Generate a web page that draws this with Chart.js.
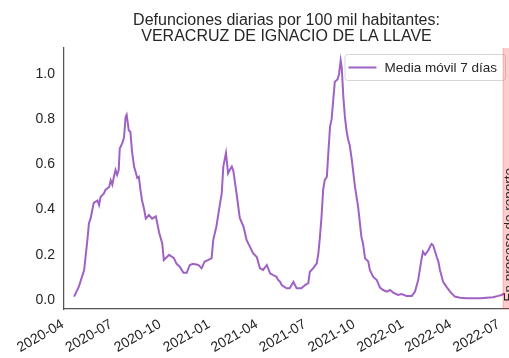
<!DOCTYPE html>
<html>
<head>
<meta charset="utf-8">
<script src="https://cdn.jsdelivr.net/npm/chart.js@4/dist/chart.umd.min.js"></script>
<style>
  html, body { margin: 0; padding: 0; background: #fff; }
  #wrap { width: 509px; height: 358px; }
</style>
</head>
<body>
<div id="wrap"><canvas id="grafica"></canvas></div>
<script>
// dias contados desde 2020-04-01
const dias = [21, 30, 40, 46, 49, 52, 58, 65, 68, 71, 77, 80, 87, 90, 93, 96, 99, 102, 105, 107,
  112, 115, 118, 120, 124, 127, 130, 134, 140, 143, 146, 149, 153, 156, 162, 168, 175, 181, 187, 190,
  200, 209, 214, 220, 227, 233, 239, 245, 255, 261, 267, 274, 280, 283, 289, 296, 299, 302, 307, 311,
  314, 318, 321, 327, 333, 340, 346, 352, 358, 365, 371, 377, 384, 390, 396, 402, 405, 409, 412, 421,
  427, 434, 440, 449, 456, 462, 465, 471, 478, 481, 484, 487, 490, 493, 497, 500, 503, 506, 509, 512,
  517, 520, 523, 525, 528, 531, 534, 537, 540, 544, 550, 556, 562, 565, 569, 575, 578, 584, 591, 597,
  603, 610, 616, 622, 631, 638, 647, 657, 663, 669, 675, 678, 682, 688, 694, 697, 704, 707, 710, 716,
  722, 729, 738, 748, 760, 773, 785, 798, 810, 820, 826, 831];

const mediaMovil = [0.015, 0.059, 0.133, 0.265, 0.34, 0.36, 0.43, 0.44, 0.42, 0.457, 0.47, 0.487, 0.50, 0.53, 0.51, 0.545, 0.575, 0.553, 0.575, 0.67,
  0.695, 0.72, 0.81, 0.82, 0.75, 0.745, 0.66, 0.59, 0.54, 0.545, 0.487, 0.44, 0.40, 0.36, 0.376, 0.36, 0.37, 0.30, 0.25, 0.177,
  0.20, 0.185, 0.16, 0.147, 0.12, 0.12, 0.155, 0.16, 0.155, 0.14, 0.17, 0.177, 0.185, 0.265, 0.325, 0.43, 0.47, 0.59, 0.65, 0.56,
  0.575, 0.59, 0.57, 0.47, 0.363, 0.325, 0.265, 0.236, 0.207, 0.19, 0.14, 0.133, 0.155, 0.118, 0.11, 0.103, 0.09, 0.08, 0.066, 0.052,
  0.052, 0.08, 0.052, 0.052, 0.066, 0.074, 0.125, 0.14, 0.162, 0.206, 0.28, 0.37, 0.487, 0.53, 0.545, 0.66, 0.767, 0.80, 0.885, 0.966,
  0.976, 1.0, 1.06, 1.03, 0.90, 0.81, 0.75, 0.71, 0.686, 0.62, 0.50, 0.41, 0.28, 0.25, 0.184, 0.17, 0.133, 0.103, 0.088, 0.055,
  0.044, 0.037, 0.044, 0.032, 0.022, 0.026, 0.018, 0.018, 0.037, 0.088, 0.177, 0.214, 0.20, 0.22, 0.248, 0.243, 0.19, 0.17, 0.133, 0.08,
  0.059, 0.037, 0.015, 0.01, 0.008, 0.008, 0.008, 0.01, 0.012, 0.018, 0.022, 0.028];

const tickDias = [0, 91, 183, 275, 365, 456, 548, 640, 730, 821];
const tickEtiquetas = ['2020-04', '2020-07', '2020-10', '2021-01', '2021-04', '2021-07', '2021-10', '2022-01', '2022-04', '2022-07'];
const yTicks = [0, 0.2, 0.4, 0.6, 0.8, 1.0];

// rango "En proceso de reporte"
const inicioReporte = 829;
const finReporte = 850;

const titulo = ['Defunciones diarias por 100 mil habitantes:', 'VERACRUZ DE IGNACIO DE LA LLAVE'];

const colorTexto = '#262626';
const colorLinea = '#9f62c4';
const fuente = '"Liberation Sans", Arial, sans-serif';

// franja rosa con su texto
const franjaReporte = {
  id: 'franjaReporte',
  afterDatasetsDraw(chart) {
    const { ctx, chartArea, scales } = chart;
    const x0 = scales.x.getPixelForValue(inicioReporte);
    const x1 = Math.min(scales.x.getPixelForValue(finReporte), chartArea.right);
    ctx.save();
    ctx.fillStyle = 'rgba(255, 0, 0, 0.2)';
    ctx.fillRect(x0, chartArea.top, x1 - x0, chartArea.bottom - chartArea.top);
    ctx.strokeStyle = 'rgba(255, 0, 0, 0.25)';
    ctx.lineWidth = 1;
    ctx.beginPath();
    ctx.moveTo(x0, chartArea.top);
    ctx.lineTo(x0, chartArea.bottom);
    ctx.stroke();
    ctx.translate(x0 + 9.5, scales.y.getPixelForValue(0) + 1.5);
    ctx.rotate(-Math.PI / 2);
    ctx.fillStyle = colorTexto;
    ctx.font = '13.5px ' + fuente;
    ctx.textAlign = 'left';
    ctx.textBaseline = 'alphabetic';
    ctx.fillText('En proceso de reporte', 0, 0);
    ctx.restore();
  }
};

// leyenda dentro del area, arriba a la derecha
const leyenda = {
  id: 'leyenda',
  afterDatasetsDraw(chart) {
    const { ctx, chartArea } = chart;
    const ds = chart.data.datasets[0];
    ctx.save();
    ctx.font = '13.5px ' + fuente;
    const tw = ctx.measureText(ds.label).width;
    const w = 41 + tw + 7, h = 26;
    const x = chartArea.right - 4 - w, y = chartArea.top + 6;
    ctx.fillStyle = 'rgba(255,255,255,0.8)';
    ctx.strokeStyle = '#d6d6d6';
    ctx.lineWidth = 1;
    ctx.beginPath();
    ctx.roundRect(x + 0.5, y + 0.5, w, h, 3);
    ctx.fill();
    ctx.stroke();
    ctx.strokeStyle = ds.borderColor;
    ctx.lineWidth = ds.borderWidth;
    ctx.beginPath();
    ctx.moveTo(x + 4, y + h / 2 + 0.5);
    ctx.lineTo(x + 32, y + h / 2 + 0.5);
    ctx.stroke();
    ctx.fillStyle = colorTexto;
    ctx.textBaseline = 'middle';
    ctx.fillText(ds.label, x + 40, y + h / 2 + 1);
    ctx.restore();
  }
};

new Chart(document.getElementById('grafica'), {
  type: 'line',
  data: {
    datasets: [{
      label: 'Media móvil 7 días',
      data: dias.map((d, i) => ({ x: d, y: mediaMovil[i] })),
      borderColor: colorLinea,
      backgroundColor: colorLinea,
      borderWidth: 2,
      pointRadius: 0,
      tension: 0,
      fill: false
    }]
  },
  options: {
    responsive: true,
    maintainAspectRatio: false,
    animation: false,
    layout: { padding: 0 },
    plugins: {
      title: {
        display: true,
        text: titulo,
        fullSize: false,
        color: colorTexto,
        font: { family: fuente, size: 16, weight: 'normal', lineHeight: 1.0 },
        padding: { top: 13, bottom: 3 }
      },
      legend: { display: false },
      tooltip: { enabled: false }
    },
    scales: {
      x: {
        type: 'linear',
        min: 2,
        max: 840,
        grid: { display: false, drawTicks: false },
        border: { display: true, color: '#555', width: 1.25 },
        afterBuildTicks: (s) => { s.ticks = tickDias.map(v => ({ value: v })); },
        afterFit: (s) => { s.height = 49; s.paddingLeft = 0; s.paddingRight = 0; },
        ticks: {
          autoSkip: false,
          minRotation: 30,
          maxRotation: 30,
          padding: 7,
          color: colorTexto,
          font: { family: fuente, size: 14 },
          callback: (v) => tickEtiquetas[tickDias.indexOf(v)]
        }
      },
      y: {
        min: -0.04,
        max: 1.115,
        grid: { display: false, drawTicks: false },
        border: { display: true, color: '#555', width: 1.25 },
        afterBuildTicks: (s) => { s.ticks = yTicks.map(v => ({ value: v })); },
        afterFit: (s) => { s.width = 64; s.paddingTop = 0; s.paddingBottom = 0; },
        ticks: {
          padding: 9,
          color: colorTexto,
          font: { family: fuente, size: 14 },
          callback: (v) => v.toFixed(1)
        }
      }
    }
  },
  plugins: [leyenda, franjaReporte]
});
</script>
</body>
</html>
